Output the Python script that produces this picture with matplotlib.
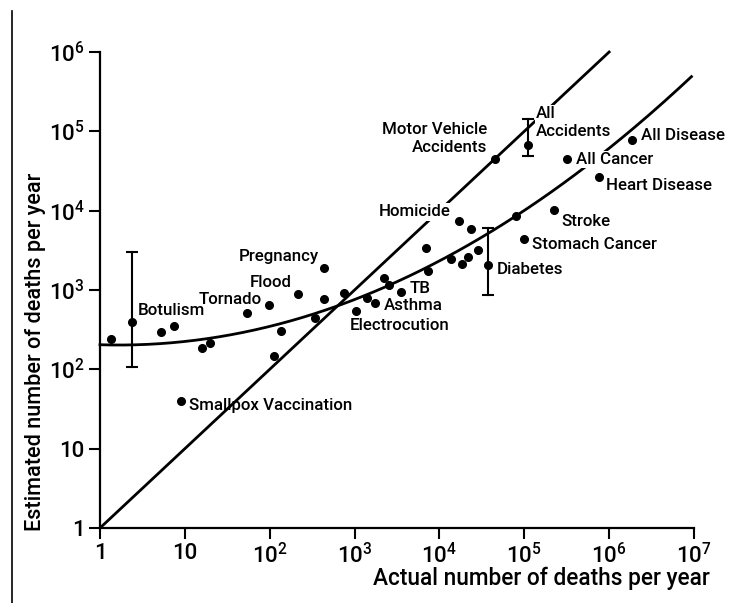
import numpy as np
import matplotlib
matplotlib.use("Agg")
import matplotlib.pyplot as plt
from matplotlib.lines import Line2D

plt.rcParams['font.family'] = ['Roboto', 'DejaVu Sans']
plt.rcParams['font.weight'] = 'medium'
plt.rcParams['mathtext.fontset'] = 'custom'
plt.rcParams['mathtext.rm'] = 'Roboto:medium'
plt.rcParams['mathtext.it'] = 'Roboto:italic'
plt.rcParams['mathtext.bf'] = 'Roboto:bold'

# Data
causes = ["", "Botulism", "", "", "Smallpox Vaccination", "", "", "", "Tornado", "",
          "", "Flood", "", "Pregnancy", "", "", "Electrocution", "", "Asthma", "",
          "", "TB", "", "", "", "Homicide", "", "", "", "",
          "Diabetes", "Motor Vehicle\nAccidents", "", "Stomach Cancer", "All\nAccidents",
          "Stroke", "All Cancer", "Heart Disease", "All Disease"]
actual = [1.33, 2.36, 5.3, 7.4, 9.0, 16.1, 20, 53.6, 97.6, 111,
          134, 215, 339, 438, 435, 748, 1033, 1396, 1730, 2218,
          2542, 3510, 7000, 7350, 13700, 17200, 18500, 21800, 23800, 28700,
          37500, 45100, 80900, 100000, 111000, 227000, 318000, 755000, 1860000]
estimated = [240, 390, 296, 351, 39.6, 188, 216, 508, 653, 148,
             305, 885, 450, 1916, 779, 917, 540, 784, 695, 1432,
             1166, 946, 3356, 1717, 2473, 7430, 2134, 2608, 5860, 3175,
             2043, 44200, 8600, 4400, 67300, 10060, 45300, 26400, 78300]

# ranges of estimates
err_causes = ["Botulism", "Diabetes", "All\nAccidents"]
err_low = [106, 855, 49000]
err_high = [2980, 5980, 143000]

# quadratic fit curve: log Y = a (log X)^2 + b log X + c
fit_a, fit_b, fit_c = 0.0743, -0.033, 2.31
fit_xmax = 10 ** 6.97

# identity line ends
ident_x = [1, 1e6]

x_ticks = [1, 10, 1e2, 1e3, 1e4, 1e5, 1e6, 1e7]
x_ticklabels = ["1", "10", "$10^2$", "$10^3$", "$10^4$", "$10^5$", "$10^6$", "$10^7$"]
y_ticks = [1, 10, 1e2, 1e3, 1e4, 1e5, 1e6]
y_ticklabels = ["1", "10", "$10^2$", "$10^3$", "$10^4$", "$10^5$", "$10^6$"]

# label placement (pixel offsets from the point, alignment)
label_pos = {
    "Botulism": (6, 12, 'left'),
    "Smallpox Vaccination": (8, -4, 'left'),
    "Tornado": (-7, 5, 'right'),
    "Flood": (-6, 12, 'right'),
    "Pregnancy": (-5, 11, 'right'),
    "Electrocution": (-6, -14, 'left'),
    "Asthma": (9, -3, 'left'),
    "TB": (9, 3, 'left'),
    "Homicide": (-9, 9, 'right'),
    "Diabetes": (9, -4, 'left'),
    "Motor Vehicle\nAccidents": (-8, 21, 'right'),
    "All\nAccidents": (8, 22, 'left'),
    "All Disease": (9, 4, 'left'),
    "All Cancer": (9, -1, 'left'),
    "Heart Disease": (7, -8, 'left'),
    "Stroke": (7, -11, 'left'),
    "Stomach Cancer": (8, -6, 'left'),
}
# labels that break the lines behind them
masked = ["Homicide", "All\nAccidents", "All Cancer"]

W, H = 737, 603
fig = plt.figure(figsize=(W / 100, H / 100), dpi=100)
ax = fig.add_axes([100 / W, 1 - 528 / H, 594 / W, 476 / H])

ax.set_xscale('log')
ax.set_yscale('log')
ax.set_xlim(1, 1e7)
ax.set_ylim(1, 1e6)

# lines
ax.plot(ident_x, ident_x, color='black', lw=2.0, zorder=2, clip_on=False)
lx = np.linspace(0, np.log10(fit_xmax), 200)
ly = fit_a * lx ** 2 + fit_b * lx + fit_c
ax.plot(10 ** lx, 10 ** ly, color='black', lw=2.0, zorder=2, clip_on=False)

# points
ax.plot(actual, estimated, 'o', color='black', ms=5.5, zorder=5, clip_on=False)

# error bars
for name, lo, hi in zip(err_causes, err_low, err_high):
    i = causes.index(name)
    ax.plot([actual[i], actual[i]], [lo, hi], color='black', lw=1.5, zorder=4)
    ax.plot([actual[i], actual[i]], [lo, hi], linestyle='none', marker='_',
            ms=8, mew=1.5, color='black', zorder=4)

# labels
for name, xv, yv in zip(causes, actual, estimated):
    if not name:
        continue
    dx, dy, ha = label_pos[name]
    box = None
    if name in masked:
        box = dict(facecolor='white', edgecolor='none', pad=1.0)
    ax.annotate(name, xy=(xv, yv), xytext=(dx, dy), textcoords='offset pixels',
                ha=ha, va='center', ma=ha, fontsize=12.2, linespacing=1.25,
                color='black', zorder=3, bbox=box)

# axes styling
ax.spines['top'].set_visible(False)
ax.spines['right'].set_visible(False)
ax.spines['left'].set_linewidth(1.6)
ax.spines['bottom'].set_linewidth(1.6)
ax.set_xticks(x_ticks)
ax.set_xticklabels(x_ticklabels)
ax.set_yticks(y_ticks)
ax.set_yticklabels(y_ticklabels)
ax.minorticks_off()
ax.tick_params(direction='out', length=8, width=1.5, labelsize=16, pad=3)

fig.text(541 / W, 1 - 578 / H, "Actual number of deaths per year",
         ha='center', va='center', fontsize=16.3)
fig.text(36 / W, 1 - 352 / H, "Estimated number of deaths per year",
         ha='center', va='center', rotation=90, fontsize=15.6)

# page border line at left
fig.add_artist(Line2D([12 / W, 12 / W], [0, 1 - 11 / H], color='black', lw=1.2,
                      transform=fig.transFigure))

fig.savefig("out.png", dpi=100)
